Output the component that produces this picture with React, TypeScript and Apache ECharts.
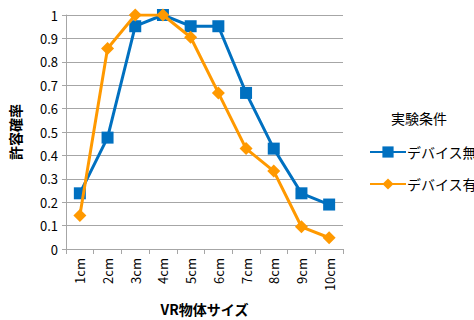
import React, { useEffect, useRef } from "react";
import * as echarts from "echarts";

const categories = ["1cm", "2cm", "3cm", "4cm", "5cm", "6cm", "7cm", "8cm", "9cm", "10cm"];
const withoutDevice = [0.238, 0.476, 0.952, 1.0, 0.952, 0.952, 0.667, 0.429, 0.238, 0.19];
const withDevice = [0.143, 0.857, 1.0, 1.0, 0.905, 0.667, 0.429, 0.333, 0.095, 0.048];
const yTicks = [0, 0.1, 0.2, 0.3, 0.4, 0.5, 0.6, 0.7, 0.8, 0.9, 1];

const FONT = "'Noto Sans CJK JP', 'Noto Sans', sans-serif";

export default function App() {
  const ref = useRef<HTMLDivElement>(null);
  useEffect(() => {
    if (!ref.current) return;
    const chart = echarts.init(ref.current, null, { renderer: "svg" });
    chart.setOption({
      animation: false,
      backgroundColor: "#ffffff",
      textStyle: { fontFamily: FONT },
      title: {
        text: "実験条件",
        left: 386,
        top: 106,
        textStyle: { fontSize: 14, fontWeight: "normal", color: "#000", fontFamily: FONT },
      },
      legend: {
        orient: "vertical",
        left: 364,
        top: 140,
        itemWidth: 36,
        itemHeight: 14,
        itemGap: 18,
        textStyle: { fontSize: 14, color: "#000", fontFamily: FONT, padding: [0, 0, 0, -4] },
        data: ["デバイス無し", "デバイス有り"],
      },
      grid: { left: 66, right: 131, top: 15, bottom: 71, containLabel: false, outerBoundsMode: "none" },
      xAxis: {
        type: "category",
        data: categories,
        boundaryGap: true,
        name: "VR物体サイズ",
        nameLocation: "middle",
        nameGap: 53,
        nameTextStyle: { fontSize: 14, fontWeight: "bold", color: "#000", fontFamily: FONT },
        axisLine: { lineStyle: { color: "#a6a6a6", width: 1 } },
        axisTick: { show: true, length: 5, lineStyle: { color: "#a6a6a6" } },
        axisLabel: { rotate: 90, fontSize: 13, color: "#000", margin: 9, fontFamily: FONT },
        splitLine: { show: false },
      },
      yAxis: {
        type: "value",
        min: 0,
        max: 1,
        interval: 0.1,
        name: "許容確率",
        nameLocation: "middle",
        nameGap: 44,
        nameRotate: 90,
        nameTextStyle: { fontSize: 14, fontWeight: "bold", color: "#000", fontFamily: FONT },
        axisLine: { show: true, lineStyle: { color: "#a6a6a6", width: 1 } },
        axisTick: { show: true, length: 4, lineStyle: { color: "#a6a6a6" } },
        axisLabel: {
          fontSize: 13,
          color: "#000",
          margin: 8,
          fontFamily: FONT,
          formatter: (v: number) => {
            const t = yTicks.find((x) => Math.abs(x - v) < 1e-6);
            return t === undefined ? "" : String(t);
          },
        },
        splitLine: { show: true, lineStyle: { color: "#a6a6a6", width: 1 } },
      },
      series: [
        {
          name: "デバイス無し",
          type: "line",
          data: withoutDevice,
          color: "#0070c0",
          lineStyle: { width: 3, color: "#0070c0" },
          symbol: "rect",
          symbolSize: 12,
          itemStyle: { color: "#0070c0" },
          z: 2,
        },
        {
          name: "デバイス有り",
          type: "line",
          data: withDevice,
          color: "#ff9900",
          lineStyle: { width: 3, color: "#ff9900" },
          symbol: "diamond",
          symbolSize: 13,
          itemStyle: { color: "#ff9900" },
          z: 3,
        },
      ],
    });
    return () => chart.dispose();
  }, []);
  return (
    <div
      ref={ref}
      style={{ position: "fixed", left: 0, top: 0, width: 474, height: 320, background: "#fff" }}
    />
  );
}
